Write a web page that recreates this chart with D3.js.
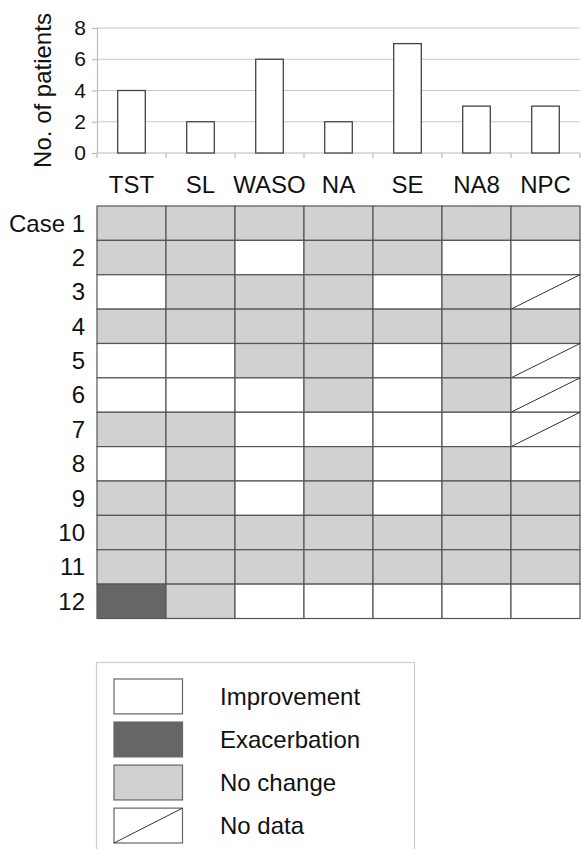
<!DOCTYPE html>
<html>
<head>
<meta charset="utf-8">
<script src="https://cdn.jsdelivr.net/npm/d3@7"></script>
<style>
  body { margin: 0; background: #fff; }
  svg { display: block; font-family: "Liberation Sans", Arial, sans-serif; }
</style>
</head>
<body>
<div id="container"></div>
<script>
// measures on the x axis
const categories = ["TST", "SL", "WASO", "NA", "SE", "NA8", "NPC"];
// number of patients improved per measure
const patientCounts = [4, 2, 6, 2, 7, 3, 3];
const yTicks = [0, 2, 4, 6, 8];

const caseLabels = ["Case 1", "2", "3", "4", "5", "6", "7", "8", "9", "10", "11", "12"];
// I = improvement, E = exacerbation, N = no change, D = no data
const caseStatus = [
  ["N", "N", "N", "N", "N", "N", "N"],
  ["N", "N", "I", "N", "N", "I", "I"],
  ["I", "N", "N", "N", "I", "N", "D"],
  ["N", "N", "N", "N", "N", "N", "N"],
  ["I", "I", "N", "N", "I", "N", "D"],
  ["I", "I", "I", "N", "I", "N", "D"],
  ["N", "N", "I", "I", "I", "I", "D"],
  ["I", "N", "I", "N", "I", "N", "I"],
  ["N", "N", "I", "N", "I", "N", "N"],
  ["N", "N", "N", "N", "N", "N", "N"],
  ["N", "N", "N", "N", "N", "N", "N"],
  ["E", "N", "I", "I", "I", "I", "I"]
];

const legendCodes = ["I", "E", "N", "D"];
const legendLabels = ["Improvement", "Exacerbation", "No change", "No data"];

const W = 581, H = 849;
const fill = { I: "#ffffff", E: "#666666", N: "#d1d1d1", D: "#ffffff" };

const svg = d3.select("#container").append("svg")
  .attr("width", W).attr("height", H);

svg.append("rect").attr("width", W).attr("height", H).attr("fill", "#fff");

// scales
const x = d3.scaleBand().domain(categories).range([97, 580]).padding(0);
const y = d3.scaleLinear().domain([0, 8]).range([153, 28]);
const rows = d3.scaleBand().domain(caseLabels).range([206, 618.5]);

// gridlines
svg.append("g")
  .selectAll("line")
  .data(yTicks.filter(d => d > 0))
  .enter()
  .append("line")
  .attr("x1", 97).attr("x2", 580)
  .attr("y1", d => y(d)).attr("y2", d => y(d))
  .attr("stroke", "#c8c8c8").attr("stroke-width", 1.2);

// y axis
const yAxis = svg.append("g")
  .attr("transform", "translate(97,0)")
  .call(d3.axisLeft(y).tickValues(yTicks).tickSize(5).tickPadding(6));
yAxis.select(".domain").attr("stroke", "#bbbbbb").attr("stroke-width", 1.2);
yAxis.selectAll(".tick line").attr("stroke", "#bbbbbb").attr("stroke-width", 1.2);
yAxis.selectAll("text")
  .attr("font-size", 21)
  .attr("fill", "#111")
  .attr("font-family", "Liberation Sans, Arial, sans-serif");

svg.append("text")
  .attr("transform", `translate(51,${(y(0) + y(8)) / 2}) rotate(-90)`)
  .attr("text-anchor", "middle")
  .attr("font-size", 24)
  .attr("fill", "#111")
  .text("No. of patients");

// x axis line and ticks at category boundaries
svg.append("line")
  .attr("x1", 97).attr("x2", 580)
  .attr("y1", y(0)).attr("y2", y(0))
  .attr("stroke", "#bbbbbb").attr("stroke-width", 1.2);

const bounds = categories.map(c => x(c)).concat([x.range()[1]]);
svg.append("g")
  .selectAll("line")
  .data(bounds)
  .enter()
  .append("line")
  .attr("x1", d => d).attr("x2", d => d)
  .attr("y1", y(0)).attr("y2", y(0) + 5)
  .attr("stroke", "#bbbbbb").attr("stroke-width", 1.2);

// bars
const barW = x.bandwidth() * 0.4;
svg.append("g")
  .selectAll("rect")
  .data(categories)
  .enter()
  .append("rect")
  .attr("x", d => x(d) + (x.bandwidth() - barW) / 2)
  .attr("y", (d, i) => y(patientCounts[i]))
  .attr("width", barW)
  .attr("height", (d, i) => y(0) - y(patientCounts[i]))
  .attr("fill", "#fff")
  .attr("stroke", "#444")
  .attr("stroke-width", 1.3);

// category labels
svg.append("g")
  .selectAll("text")
  .data(categories)
  .enter()
  .append("text")
  .attr("x", d => x(d) + x.bandwidth() / 2)
  .attr("y", 193)
  .attr("text-anchor", "middle")
  .attr("font-size", 24)
  .attr("fill", "#111")
  .text(d => d);

// case grid
const cells = [];
caseStatus.forEach((r, i) => r.forEach((s, j) => cells.push({ row: caseLabels[i], col: categories[j], s })));

const cell = svg.append("g").selectAll("g")
  .data(cells)
  .enter()
  .append("g");

cell.append("rect")
  .attr("x", d => x(d.col))
  .attr("y", d => rows(d.row))
  .attr("width", x.bandwidth())
  .attr("height", rows.bandwidth())
  .attr("fill", d => fill[d.s])
  .attr("stroke", "#555")
  .attr("stroke-width", 1.2);

cell.filter(d => d.s === "D")
  .append("line")
  .attr("x1", d => x(d.col))
  .attr("y1", d => rows(d.row) + rows.bandwidth())
  .attr("x2", d => x(d.col) + x.bandwidth())
  .attr("y2", d => rows(d.row))
  .attr("stroke", "#333")
  .attr("stroke-width", 1);

// row labels
svg.append("g")
  .selectAll("text")
  .data(caseLabels)
  .enter()
  .append("text")
  .attr("x", 85)
  .attr("y", d => rows(d) + rows.bandwidth() / 2)
  .attr("dy", "0.35em")
  .attr("text-anchor", "end")
  .attr("font-size", 24)
  .attr("fill", "#111")
  .text(d => d);

// legend
const legendY = d3.scaleBand().domain(legendCodes).range([679, 843]).paddingInner(0.19);

svg.append("rect")
  .attr("x", 96.5).attr("y", 662.5)
  .attr("width", 318).attr("height", 200)
  .attr("fill", "#fff")
  .attr("stroke", "#cccccc")
  .attr("stroke-width", 1.2);

const leg = svg.append("g").selectAll("g")
  .data(legendCodes)
  .enter()
  .append("g");

leg.append("rect")
  .attr("x", 114)
  .attr("y", d => legendY(d))
  .attr("width", 68.5)
  .attr("height", legendY.bandwidth())
  .attr("fill", d => fill[d])
  .attr("stroke", "#666")
  .attr("stroke-width", 1.2);

leg.filter(d => d === "D")
  .append("line")
  .attr("x1", 114)
  .attr("y1", d => legendY(d) + legendY.bandwidth())
  .attr("x2", 114 + 68.5)
  .attr("y2", d => legendY(d))
  .attr("stroke", "#333")
  .attr("stroke-width", 1);

leg.append("text")
  .attr("x", 220)
  .attr("y", d => legendY(d) + legendY.bandwidth() / 2)
  .attr("dy", "0.35em")
  .attr("font-size", 24)
  .attr("fill", "#111")
  .text((d, i) => legendLabels[i]);
</script>
</body>
</html>
